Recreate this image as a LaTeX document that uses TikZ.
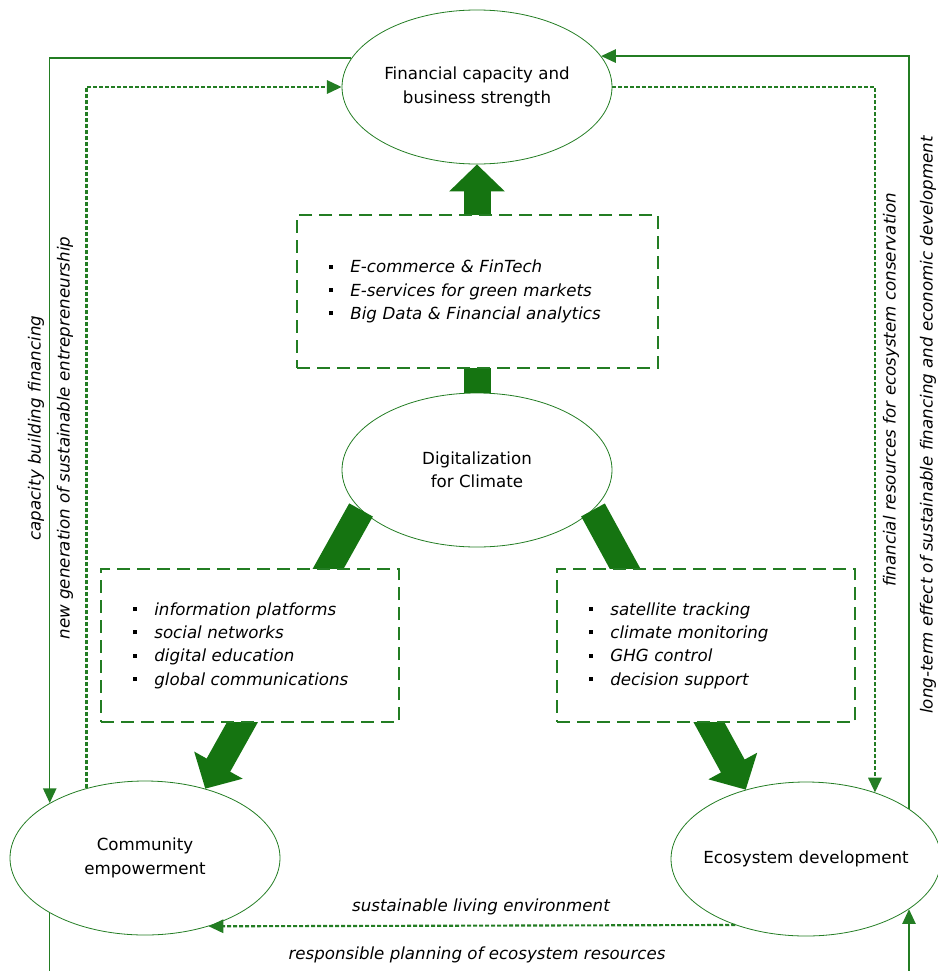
\documentclass[tikz,border=0pt]{standalone}
\usepackage{fontspec}
\setmainfont{DejaVu Sans}
\usepackage{tikz}
\usetikzlibrary{arrows.meta,shapes.geometric}

\definecolor{linegreen}{RGB}{35,125,35}
\definecolor{blockgreen}{RGB}{21,116,17}
\newcommand{\bitem}[1]{\makebox[16pt][l]{\rule[3pt]{3pt}{3pt}}\textit{#1}}

\begin{document}
\begin{tikzpicture}
    [x = .75pt, y = -.75pt, font = \fontsize{12.5}{17.5}\selectfont,
     oval/.style = {ellipse, draw = linegreen, line width = .6pt, fill = white,
       minimum width = 202.5pt, minimum height = 115.5pt, inner sep = 0pt, align = center},
     itembox/.style = {draw = linegreen, line width = 1.4pt, dash pattern = on 10pt off 5pt,
       fill = white, minimum height = 114.75pt, inner xsep = 24pt, align = left},
     link/.style = {draw = linegreen, line width = 1.1pt, -{Triangle[length = 11pt, width = 10pt]}},
     dotlink/.style = {link, line width = 1.6pt, dash pattern = on 3pt off 1.5pt},
     bigarrow/.style = {draw = blockgreen, line width = 20.25pt,
       -{Triangle[length = 20.25pt, width = 40.5pt]}},
     linktext/.style = {font = \fontsize{12.5}{15}\selectfont\itshape}]
    \useasboundingbox (0,0) rectangle (938,971);
    \clip (0,0) rectangle (938,971);

    \node[oval] (fin) at (477,87) {Financial capacity and\\business strength};
    \node[oval] (digi) at (477,470) {Digitalization\\for Climate};
    \node[oval] (comm) at (145,858) {Community\\empowerment};
    \node[oval, inner xsep = -30pt] (eco) at (806,859) {Ecosystem development};

    \foreach \from/\to in {digi.north/fin.south, digi.199/comm.49, digi.-19/eco.131}
      \draw[bigarrow] (\from) -- (\to);

    \node[itembox, text width = 222.75pt] (market) at (477.5,291.5)
      {\bitem{E-commerce \& FinTech}\\ \bitem{E-services for green markets}\\
       \bitem{Big Data \& Financial analytics}};
    \node[itembox, text width = 175.5pt] (social) at (250,645.5)
      {\bitem{information platforms}\\ \bitem{social networks}\\
       \bitem{digital education}\\ \bitem{global communications}};
    \node[itembox, text width = 175.5pt] (monitor) at (706,645.5)
      {\bitem{satellite tracking}\\ \bitem{climate monitoring}\\
       \bitem{GHG control}\\ \bitem{decision support}};

    \draw[link] (fin.167) -| (comm.150);
    \draw[dotlink] (comm.130) |- (fin.west);
    \draw[link] (eco.26) |- (fin.14);
    \draw[dotlink] (fin.east) -| (eco.44);
    \draw[dotlink] (eco.223) -- (comm.-47);
    \draw[link] (comm.210) -- ++(0,80) -| (eco.-26);

    \node[linktext, rotate = 90] (capfin) at (36,428) {capacity building financing};
    \node[linktext, rotate = 90] (newgen) at (65,438) {new generation of sustainable entrepreneurship};
    \node[linktext, rotate = 90] (finres) at (891,390) {financial resources for ecosystem conservation};
    \node[linktext, rotate = 90] (longterm) at (928,425)
      {long-term effect of sustainable financing and economic development};
    \node[linktext] (living) at (481,907) {sustainable living environment};
    \node[linktext] (planning) at (477,955) {responsible planning of ecosystem resources};
\end{tikzpicture}
\end{document}
